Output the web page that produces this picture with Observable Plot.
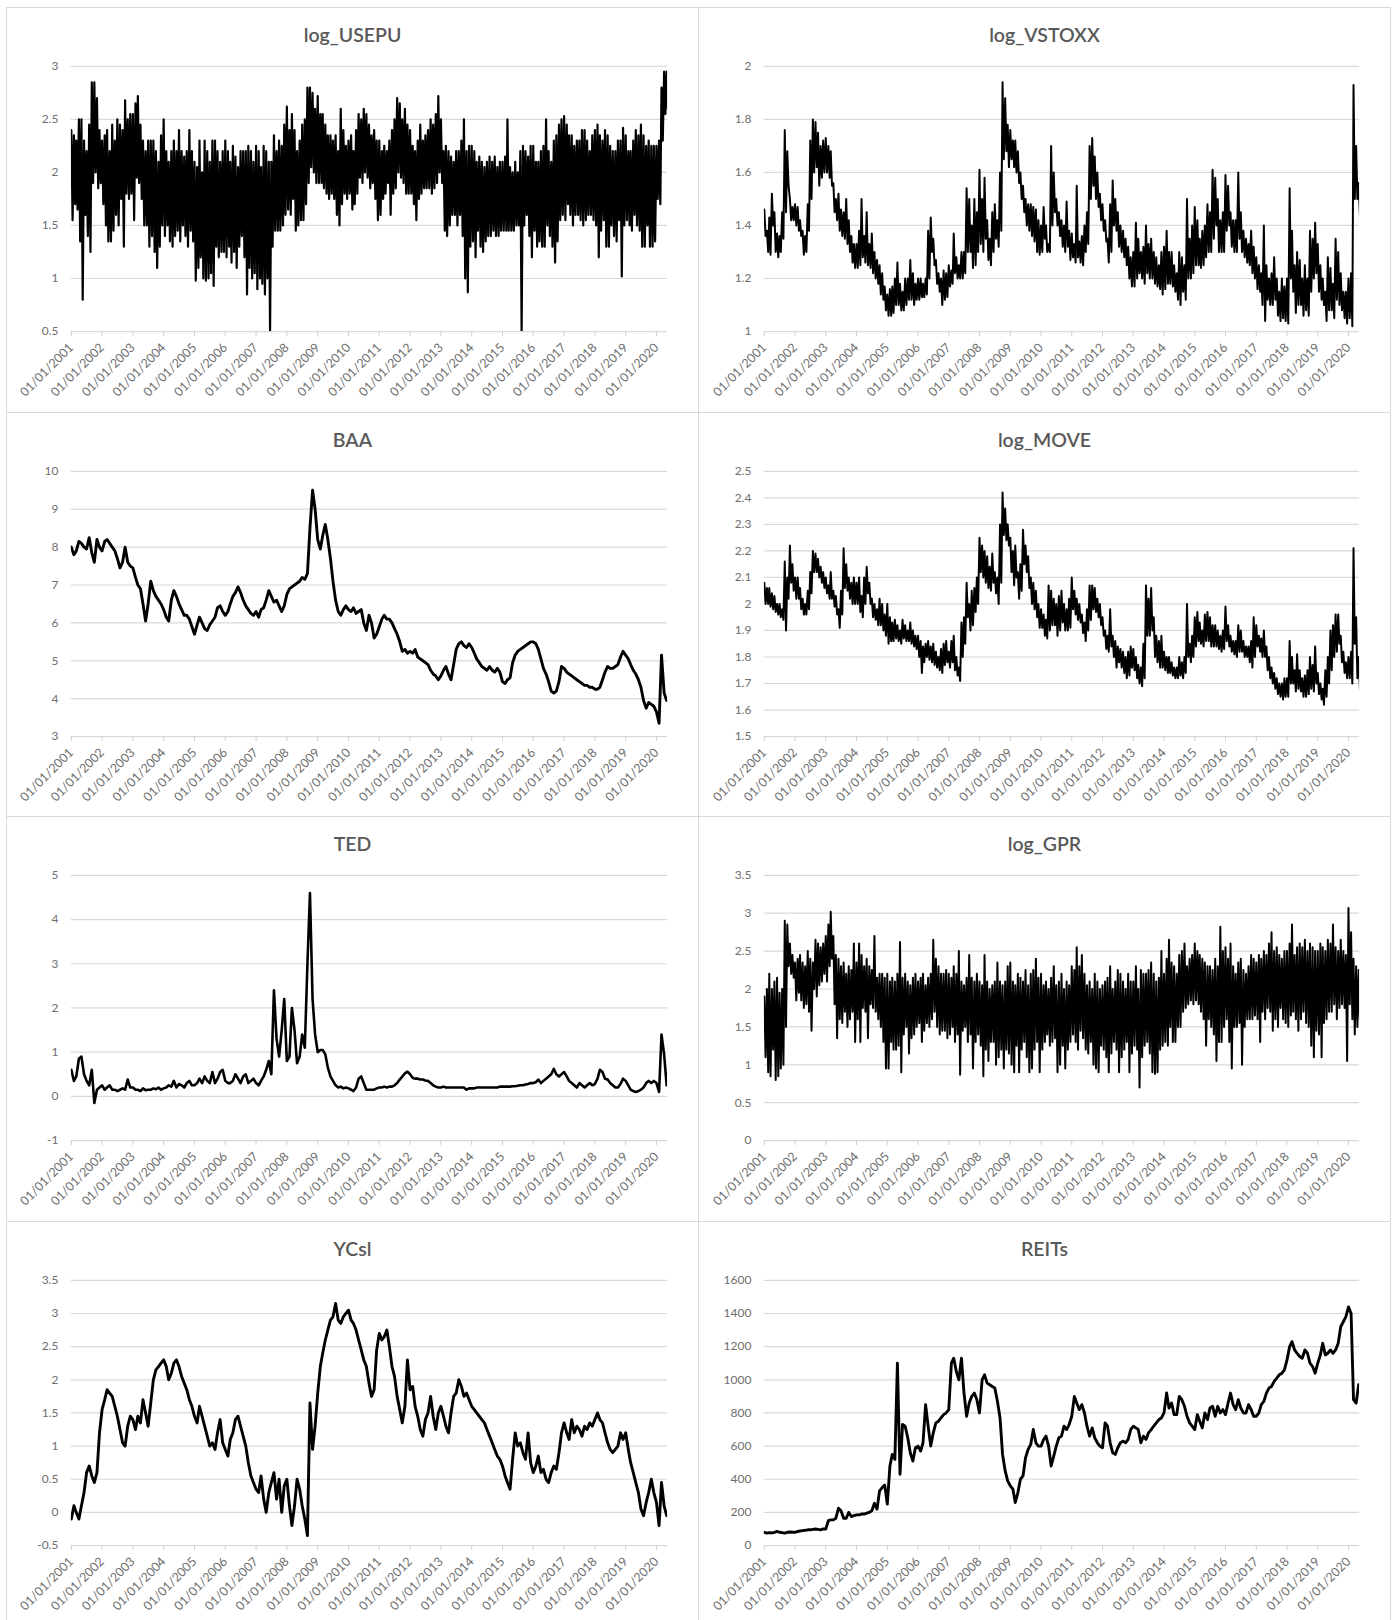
<!DOCTYPE html>
<html><head><meta charset="utf-8">
<script src="https://cdn.jsdelivr.net/npm/d3@7"></script>
<script src="https://cdn.jsdelivr.net/npm/@observablehq/plot@0.6"></script>
<style>
body{margin:0;background:#fff;width:1397px;height:1620px;position:relative;overflow:hidden;font-family:Lato,"Open Sans",sans-serif}
.panel{position:absolute;box-sizing:border-box;border:1px solid #d9d9d9;background:#fff;overflow:hidden}
.title{position:absolute;left:0;right:0;top:14px;height:26px;line-height:26px;text-align:center;font-size:19.5px;font-weight:600;color:#595959;z-index:2}
.panel svg{position:absolute;left:-1px;top:-1px}
</style></head><body>
<script>
// ---------- tick labels ----------
const tickYears = [2001,2002,2003,2004,2005,2006,2007,2008,2009,2010,2011,2012,2013,2014,2015,2016,2017,2018,2019,2020];
const usepuTicks = [0.5,1,1.5,2,2.5,3];
const vstoxxTicks = [1,1.2,1.4,1.6,1.8,2];
const baaTicks = [3,4,5,6,7,8,9,10];
const moveTicks = [1.5,1.6,1.7,1.8,1.9,2,2.1,2.2,2.3,2.4,2.5];
const tedTicks = [-1,0,1,2,3,4,5];
const gprTicks = [0,0.5,1,1.5,2,2.5,3,3.5];
const ycslTicks = [-0.5,0,0.5,1,1.5,2,2.5,3,3.5];
const reitsTicks = [0,200,400,600,800,1000,1200,1400,1600];

// ---------- series values (monthly, Jan 2001 - May 2020) ----------
const usepuHi = [
2.4,2.35,2.3,2.5,2.5,2.3,2.2,2.45,2.85,2.85,2.7,2.4,
2.3,2.35,2.4,2.2,2.45,2.3,2.5,2.45,2.4,2.68,2.5,2.55,
2.55,2.65,2.72,2.45,2.3,2.2,2.3,2.3,2.3,2.2,2.1,2.35,
2.5,2.2,2.1,2.2,2.3,2.2,2.4,2.2,2.15,2.2,2.4,2.2,
2.1,2.05,2.3,2.0,2.3,2.2,2.1,2.3,2.3,2.2,2.1,2.2,
2.3,2.2,2.1,2.25,2.15,2.05,2.2,2.2,2.2,2.25,2.2,2.1,
2.25,2.2,2.05,2.25,2.2,2.1,2.1,2.35,2.2,2.3,2.25,2.45,
2.62,2.4,2.55,2.4,2.2,2.3,2.45,2.5,2.8,2.8,2.75,2.6,
2.72,2.55,2.55,2.45,2.35,2.35,2.3,2.35,2.2,2.6,2.4,2.25,
2.3,2.35,2.2,2.4,2.55,2.5,2.6,2.55,2.45,2.35,2.4,2.3,
2.3,2.2,2.25,2.2,2.3,2.4,2.5,2.7,2.65,2.5,2.6,2.45,
2.4,2.25,2.2,2.3,2.45,2.3,2.35,2.4,2.5,2.45,2.55,2.72,
2.5,2.2,2.25,2.2,2.15,2.1,2.2,2.2,2.3,2.5,2.2,2.25,
2.25,2.2,2.1,2.15,2.1,2.05,2.1,2.15,2.1,2.15,2.05,2.1,
2.1,2.15,2.5,2.05,2.0,2.1,2.0,2.2,2.25,2.2,2.15,2.25,
2.25,2.1,2.1,2.2,2.25,2.5,2.2,2.1,2.3,2.35,2.45,2.5,
2.53,2.45,2.35,2.35,2.25,2.3,2.3,2.4,2.4,2.3,2.2,2.35,
2.4,2.45,2.35,2.3,2.4,2.35,2.25,2.2,2.2,2.3,2.3,2.42,
2.35,2.2,2.2,2.3,2.4,2.35,2.45,2.35,2.25,2.3,2.25,2.25,
2.25,2.3,2.8,2.95,2.95];
const usepuLo = [
1.55,1.7,1.65,1.35,0.8,1.6,1.4,1.25,1.9,2.0,1.85,1.9,
1.7,1.5,1.35,1.35,1.45,1.6,1.5,1.75,1.3,1.8,1.75,1.8,
1.55,1.95,1.9,1.75,1.5,1.5,1.3,1.4,1.25,1.1,1.3,1.5,
1.4,1.5,1.35,1.3,1.4,1.45,1.35,1.5,1.4,1.3,1.45,1.35,
0.98,1.1,1.2,1.0,0.98,1.0,1.05,0.93,1.3,1.2,1.25,1.25,
1.2,1.3,1.15,1.25,1.1,1.3,1.4,1.2,0.85,1.1,1.0,1.05,
0.9,1.0,0.95,0.85,1.0,0.5,1.3,1.45,1.45,1.45,1.5,1.6,
1.65,1.6,1.75,1.45,1.5,1.55,1.55,1.7,1.9,2.05,2.0,1.9,
1.9,1.9,1.85,1.8,1.75,1.8,1.75,1.6,1.5,1.7,1.8,1.75,
1.8,1.65,1.7,1.8,1.95,1.9,2.0,1.95,1.85,1.9,1.75,1.55,
1.6,1.75,1.8,1.9,1.6,1.8,1.85,2.0,1.95,1.9,1.8,1.8,
1.8,1.7,1.55,1.75,1.8,1.85,1.85,1.85,1.8,1.85,1.9,2.0,
1.9,1.45,1.4,1.5,1.6,1.6,1.5,1.6,1.4,1.0,0.87,1.3,
1.35,1.2,1.45,1.3,1.25,1.35,1.4,1.4,1.45,1.4,1.4,1.45,
1.45,1.45,1.45,1.45,1.45,1.5,1.5,0.5,1.5,1.6,1.4,1.2,
1.45,1.3,1.35,1.3,1.3,1.5,1.4,1.3,1.15,1.35,1.55,1.6,
1.55,1.7,1.6,1.5,1.6,1.6,1.55,1.5,1.55,1.6,1.6,1.55,
1.5,1.2,1.45,1.55,1.3,1.3,1.5,1.4,1.35,1.55,1.02,1.5,
1.55,1.5,1.45,1.6,1.5,1.45,1.3,1.3,1.5,1.3,1.3,1.35,
1.75,1.7,2.3,2.55,2.6];

const vstoxxHi = [
1.46,1.38,1.43,1.52,1.45,1.37,1.36,1.45,1.76,1.68,1.5,1.47,
1.48,1.47,1.42,1.38,1.36,1.48,1.72,1.8,1.79,1.75,1.7,1.72,
1.73,1.7,1.68,1.56,1.5,1.52,1.46,1.45,1.5,1.42,1.36,1.33,
1.33,1.38,1.5,1.36,1.45,1.33,1.37,1.3,1.27,1.25,1.22,1.17,
1.14,1.16,1.17,1.2,1.26,1.18,1.15,1.2,1.2,1.27,1.22,1.18,
1.2,1.2,1.18,1.2,1.38,1.43,1.35,1.27,1.22,1.2,1.23,1.22,
1.25,1.23,1.37,1.28,1.25,1.3,1.3,1.54,1.5,1.4,1.5,1.45,
1.61,1.5,1.58,1.42,1.35,1.45,1.48,1.42,1.6,1.94,1.88,1.78,
1.76,1.72,1.72,1.68,1.6,1.55,1.5,1.48,1.48,1.47,1.46,1.42,
1.4,1.47,1.4,1.33,1.7,1.6,1.5,1.45,1.42,1.4,1.49,1.38,
1.37,1.33,1.55,1.34,1.36,1.4,1.45,1.7,1.73,1.66,1.6,1.52,
1.48,1.42,1.35,1.48,1.57,1.5,1.45,1.4,1.38,1.35,1.32,1.28,
1.3,1.41,1.35,1.3,1.32,1.4,1.33,1.35,1.3,1.28,1.25,1.3,
1.32,1.38,1.3,1.3,1.25,1.22,1.3,1.28,1.25,1.5,1.35,1.4,
1.47,1.42,1.35,1.38,1.4,1.48,1.45,1.61,1.58,1.5,1.42,1.45,
1.59,1.55,1.45,1.42,1.42,1.6,1.45,1.38,1.35,1.33,1.38,1.32,
1.28,1.25,1.22,1.4,1.25,1.2,1.22,1.28,1.2,1.15,1.2,1.17,
1.2,1.54,1.38,1.25,1.3,1.27,1.2,1.25,1.2,1.38,1.35,1.41,
1.33,1.25,1.2,1.15,1.28,1.24,1.18,1.35,1.3,1.22,1.15,1.15,
1.2,1.22,1.93,1.7,1.56];
const vstoxxLo = [
1.36,1.3,1.29,1.4,1.3,1.28,1.3,1.35,1.45,1.55,1.42,1.42,
1.4,1.38,1.36,1.29,1.3,1.38,1.5,1.6,1.62,1.55,1.58,1.6,
1.6,1.58,1.55,1.45,1.42,1.38,1.36,1.35,1.33,1.3,1.26,1.24,
1.24,1.25,1.28,1.26,1.25,1.24,1.22,1.2,1.18,1.14,1.12,1.08,
1.06,1.06,1.07,1.1,1.1,1.08,1.08,1.1,1.12,1.12,1.1,1.12,
1.12,1.13,1.13,1.14,1.2,1.3,1.25,1.18,1.15,1.1,1.12,1.13,
1.17,1.18,1.22,1.2,1.2,1.2,1.22,1.3,1.3,1.24,1.25,1.3,
1.33,1.3,1.35,1.27,1.25,1.3,1.35,1.32,1.38,1.65,1.68,1.62,
1.65,1.62,1.6,1.56,1.5,1.45,1.4,1.38,1.36,1.34,1.3,1.29,
1.3,1.35,1.3,1.3,1.4,1.45,1.4,1.36,1.32,1.3,1.32,1.27,
1.28,1.26,1.28,1.26,1.25,1.3,1.33,1.5,1.55,1.5,1.47,1.42,
1.38,1.34,1.26,1.3,1.4,1.38,1.32,1.3,1.28,1.25,1.2,1.17,
1.17,1.2,1.22,1.2,1.18,1.22,1.2,1.2,1.18,1.17,1.16,1.14,
1.16,1.18,1.18,1.17,1.15,1.12,1.1,1.15,1.12,1.2,1.2,1.22,
1.25,1.25,1.24,1.25,1.28,1.3,1.3,1.35,1.4,1.3,1.3,1.3,
1.38,1.4,1.32,1.3,1.3,1.35,1.3,1.28,1.26,1.25,1.22,1.2,
1.16,1.15,1.1,1.04,1.12,1.1,1.1,1.12,1.06,1.04,1.05,1.04,
1.03,1.2,1.15,1.07,1.1,1.1,1.06,1.08,1.06,1.15,1.2,1.22,
1.15,1.12,1.1,1.04,1.08,1.08,1.05,1.12,1.1,1.08,1.05,1.03,
1.05,1.02,1.5,1.5,1.44];

const baa = [
8.0,7.8,7.9,8.15,8.1,8.0,7.95,8.25,7.85,7.6,8.2,8.0,
7.9,8.15,8.2,8.1,8.0,7.9,7.7,7.45,7.6,8.0,7.6,7.5,
7.45,7.2,7.0,6.9,6.5,6.05,6.5,7.1,6.85,6.7,6.6,6.5,
6.35,6.15,6.05,6.6,6.85,6.7,6.5,6.35,6.2,6.2,6.1,5.9,
5.7,5.95,6.15,6.0,5.85,5.8,5.95,6.05,6.15,6.4,6.45,6.3,
6.2,6.3,6.5,6.7,6.8,6.95,6.8,6.6,6.45,6.35,6.25,6.2,
6.3,6.15,6.35,6.4,6.6,6.85,6.7,6.55,6.6,6.45,6.3,6.45,
6.75,6.9,6.95,7.0,7.05,7.1,7.2,7.15,7.3,8.5,9.5,9.0,
8.2,7.95,8.3,8.6,8.2,7.7,7.1,6.6,6.3,6.2,6.35,6.45,
6.35,6.3,6.4,6.25,6.3,6.35,6.0,5.8,6.2,6.0,5.6,5.7,
5.9,6.1,6.2,6.1,6.1,6.0,5.85,5.7,5.5,5.25,5.3,5.2,
5.25,5.2,5.3,5.1,5.05,5.0,4.95,4.9,4.75,4.65,4.6,4.5,
4.6,4.75,4.85,4.65,4.5,4.9,5.3,5.45,5.5,5.4,5.35,5.45,
5.35,5.2,5.05,4.95,4.85,4.8,4.75,4.85,4.75,4.7,4.8,4.7,
4.45,4.4,4.5,4.55,4.95,5.15,5.25,5.3,5.35,5.4,5.45,5.5,
5.5,5.45,5.3,5.05,4.8,4.65,4.45,4.2,4.15,4.2,4.45,4.85,
4.8,4.7,4.65,4.6,4.55,4.5,4.45,4.4,4.35,4.35,4.3,4.3,
4.25,4.25,4.3,4.5,4.7,4.85,4.8,4.8,4.85,4.9,5.1,5.25,
5.15,5.05,4.9,4.75,4.65,4.5,4.3,3.95,3.75,3.9,3.85,3.8,
3.65,3.35,5.15,4.15,3.95];

const moveHi = [
2.08,2.06,2.06,2.04,2.03,2.0,2.0,1.98,2.16,2.1,2.22,2.15,
2.1,2.1,2.06,2.02,2.0,2.05,2.12,2.2,2.19,2.17,2.14,2.12,
2.1,2.07,2.12,2.05,2.03,1.98,2.05,2.21,2.15,2.1,2.08,2.1,
2.08,2.1,2.03,2.1,2.14,2.08,2.02,2.0,1.98,2.02,2.0,1.96,
2.0,1.95,1.93,1.94,1.92,1.9,1.94,1.92,1.9,1.93,1.9,1.88,
1.88,1.86,1.84,1.85,1.86,1.84,1.85,1.82,1.8,1.83,1.85,1.86,
1.82,1.86,1.88,1.8,1.76,1.93,1.95,2.08,2.0,2.05,2.06,2.1,
2.25,2.22,2.2,2.18,2.14,2.19,2.12,2.1,2.3,2.42,2.36,2.3,
2.25,2.2,2.22,2.12,2.15,2.28,2.22,2.18,2.1,2.08,2.05,2.0,
1.98,1.96,1.94,2.07,2.05,2.02,2.0,2.03,2.05,2.0,1.98,2.02,
2.1,2.05,2.02,2.0,1.96,1.93,1.98,2.07,2.07,2.06,2.02,2.0,
1.95,1.9,1.88,1.98,1.88,1.86,1.84,1.83,1.82,1.8,1.82,1.84,
1.83,1.8,1.77,1.76,1.85,2.07,2.02,2.06,1.95,1.88,1.86,1.88,
1.82,1.8,1.8,1.78,1.76,1.76,1.8,1.78,1.8,2.0,1.85,1.88,
1.95,1.97,1.93,1.9,1.96,1.97,1.95,1.92,1.92,1.9,1.88,1.9,
1.99,1.92,1.88,1.86,1.86,1.92,1.9,1.86,1.84,1.84,1.86,1.95,
1.92,1.88,1.87,1.9,1.84,1.8,1.76,1.74,1.72,1.7,1.7,1.72,
1.72,1.86,1.8,1.75,1.81,1.75,1.72,1.73,1.75,1.8,1.77,1.84,
1.74,1.7,1.68,1.75,1.8,1.9,1.92,1.96,1.96,1.88,1.82,1.78,
1.8,1.82,2.21,1.95,1.8];
const moveLo = [
2.0,2.0,1.99,1.98,1.97,1.96,1.95,1.94,1.9,2.02,2.08,2.05,
2.02,2.02,1.98,1.96,1.96,1.98,2.04,2.12,2.12,2.1,2.08,2.06,
2.04,2.02,2.02,1.99,1.96,1.91,1.96,2.06,2.05,2.02,2.0,2.0,
2.0,1.97,1.95,2.0,2.04,2.0,1.95,1.94,1.92,1.92,1.9,1.88,
1.85,1.86,1.86,1.87,1.86,1.85,1.87,1.86,1.86,1.85,1.84,1.83,
1.8,1.74,1.78,1.8,1.79,1.78,1.77,1.76,1.75,1.74,1.77,1.78,
1.76,1.78,1.75,1.73,1.71,1.8,1.85,1.95,1.9,1.92,1.97,2.0,
2.12,2.1,2.08,2.06,2.05,2.08,2.04,2.0,2.08,2.26,2.24,2.22,
2.12,2.07,2.1,2.02,2.05,2.15,2.12,2.06,2.0,1.98,1.95,1.91,
1.91,1.88,1.87,1.9,1.92,1.92,1.88,1.9,1.93,1.9,1.9,1.91,
1.98,1.96,1.94,1.93,1.89,1.86,1.9,1.94,1.98,1.97,1.95,1.92,
1.88,1.83,1.82,1.84,1.8,1.76,1.78,1.76,1.74,1.72,1.73,1.76,
1.75,1.72,1.7,1.69,1.72,1.88,1.88,1.9,1.8,1.78,1.76,1.76,
1.75,1.74,1.74,1.73,1.72,1.72,1.73,1.72,1.74,1.8,1.78,1.8,
1.84,1.86,1.85,1.84,1.86,1.86,1.84,1.84,1.84,1.83,1.82,1.83,
1.86,1.84,1.82,1.81,1.8,1.82,1.82,1.8,1.8,1.78,1.76,1.8,
1.84,1.82,1.8,1.8,1.75,1.72,1.7,1.68,1.66,1.65,1.64,1.65,
1.65,1.7,1.7,1.67,1.68,1.67,1.65,1.65,1.66,1.68,1.67,1.7,
1.66,1.64,1.62,1.65,1.7,1.75,1.8,1.82,1.85,1.78,1.74,1.72,
1.72,1.7,1.85,1.72,1.68];

const ted = [
0.6,0.35,0.45,0.85,0.9,0.5,0.35,0.25,0.6,-0.15,0.15,0.2,
0.25,0.15,0.2,0.25,0.15,0.15,0.12,0.15,0.18,0.15,0.38,0.2,
0.2,0.15,0.15,0.12,0.18,0.14,0.15,0.15,0.18,0.16,0.2,0.15,
0.18,0.2,0.25,0.22,0.35,0.2,0.28,0.25,0.2,0.3,0.35,0.25,
0.25,0.3,0.4,0.3,0.45,0.35,0.3,0.55,0.3,0.4,0.55,0.6,
0.35,0.3,0.3,0.35,0.5,0.4,0.3,0.45,0.5,0.3,0.35,0.4,
0.3,0.25,0.35,0.45,0.6,0.8,0.5,2.4,1.3,0.9,1.5,2.2,
0.8,0.9,2.0,1.5,0.75,0.9,1.4,1.1,3.0,4.6,2.2,1.4,
1.0,1.05,1.05,0.95,0.65,0.45,0.35,0.25,0.2,0.22,0.18,0.2,
0.18,0.15,0.12,0.2,0.4,0.45,0.3,0.15,0.15,0.15,0.15,0.18,
0.2,0.2,0.22,0.2,0.22,0.22,0.25,0.3,0.38,0.45,0.52,0.56,
0.5,0.42,0.4,0.4,0.38,0.38,0.36,0.35,0.3,0.25,0.22,0.2,
0.2,0.22,0.2,0.2,0.2,0.2,0.2,0.2,0.2,0.2,0.15,0.18,
0.18,0.18,0.2,0.2,0.2,0.2,0.2,0.2,0.2,0.2,0.2,0.22,
0.22,0.22,0.22,0.22,0.23,0.23,0.24,0.25,0.25,0.27,0.28,0.3,
0.3,0.32,0.38,0.3,0.35,0.4,0.45,0.5,0.62,0.5,0.45,0.5,
0.55,0.45,0.35,0.3,0.25,0.2,0.3,0.25,0.2,0.25,0.3,0.25,
0.28,0.4,0.6,0.55,0.4,0.38,0.3,0.25,0.2,0.2,0.28,0.4,
0.35,0.25,0.15,0.12,0.1,0.12,0.15,0.2,0.3,0.35,0.3,0.35,
0.3,0.1,1.4,0.95,0.25];

const gprHi = [
1.9,2.0,2.2,2.0,2.1,2.15,1.95,2.0,2.9,2.85,2.6,2.45,
2.35,2.4,2.45,2.35,2.3,2.5,2.4,2.35,2.65,2.6,2.55,2.6,
2.7,2.85,3.02,2.7,2.45,2.4,2.3,2.35,2.2,2.3,2.25,2.6,
2.35,2.6,2.45,2.3,2.4,2.3,2.25,2.7,2.15,2.2,2.2,2.15,
2.2,2.1,2.15,2.1,2.2,2.62,2.15,2.2,2.1,2.05,2.15,2.2,
2.1,2.15,2.2,2.05,2.15,2.2,2.65,2.4,2.3,2.2,2.2,2.25,
2.2,2.15,2.3,2.2,2.5,2.1,2.05,2.15,2.45,2.15,2.1,2.2,
2.1,2.05,2.45,2.1,2.0,2.05,2.1,2.35,2.1,2.05,2.1,2.3,
2.35,2.1,2.05,2.2,2.15,2.1,2.25,2.05,2.2,2.25,2.4,2.15,
2.2,2.05,2.1,2.0,2.15,2.3,2.05,2.1,2.2,2.0,2.1,2.05,
2.3,2.25,2.55,2.3,2.45,2.2,2.05,2.1,2.0,2.2,2.1,2.0,
2.05,2.1,2.15,2.3,2.0,2.1,2.25,2.2,2.1,2.0,2.2,2.1,
2.1,2.3,2.0,2.25,2.2,2.2,2.25,2.35,2.2,2.1,2.15,2.5,
2.2,2.4,2.65,2.35,2.3,2.2,2.45,2.5,2.6,2.3,2.4,2.45,
2.6,2.5,2.45,2.4,2.35,2.3,2.3,2.25,2.4,2.3,2.82,2.5,
2.55,2.4,2.6,2.3,2.2,2.35,2.4,2.25,2.2,2.3,2.45,2.4,
2.35,2.45,2.4,2.5,2.45,2.6,2.75,2.5,2.55,2.45,2.4,2.5,
2.5,2.6,2.85,2.45,2.55,2.6,2.55,2.65,2.5,2.6,2.55,2.5,
2.5,2.6,2.55,2.5,2.65,2.6,2.85,2.55,2.5,2.65,2.5,2.45,
3.07,2.75,2.4,2.3,2.25];
const gprLo = [
1.1,0.9,0.85,1.2,0.8,0.85,0.95,1.0,1.5,2.3,2.2,2.15,
1.85,1.95,1.85,1.75,1.8,1.7,1.45,2.0,1.9,2.05,2.1,2.2,
2.1,2.3,2.4,1.8,1.35,1.6,1.55,1.7,1.5,1.6,1.7,1.3,
1.6,1.3,1.75,1.7,1.35,1.8,1.75,1.7,1.6,1.5,1.3,0.95,
0.95,1.3,1.2,1.2,1.25,0.9,1.4,1.5,1.15,1.35,1.4,1.5,
1.55,1.3,1.45,1.55,1.5,1.6,1.7,1.5,1.4,1.45,1.45,1.35,
1.4,1.5,1.3,1.4,0.87,1.45,1.5,1.3,1.4,0.95,1.3,1.4,
1.25,0.85,1.2,1.05,1.3,1.3,1.0,1.1,1.2,0.95,1.2,1.15,
1.0,0.9,1.25,0.9,1.2,1.3,1.1,0.9,0.95,1.2,1.3,0.9,
1.2,1.3,1.4,1.25,1.3,1.35,0.9,1.0,1.25,0.95,1.2,1.3,
1.4,1.3,1.2,1.45,1.35,1.2,1.15,1.3,1.0,0.95,0.9,1.25,
1.2,1.1,0.9,1.15,1.3,1.2,0.9,1.1,1.2,1.3,0.9,1.15,
1.25,1.2,0.7,1.1,1.25,1.3,1.15,0.9,0.88,0.9,1.2,1.25,
1.3,1.25,1.5,1.3,1.3,1.5,1.5,1.7,1.75,1.8,1.85,1.8,
1.85,1.8,1.7,1.6,1.25,1.6,1.5,1.4,1.05,1.3,1.3,1.5,
1.6,1.3,0.95,1.5,1.5,1.55,1.0,1.5,1.6,1.6,1.6,1.65,
1.6,1.3,1.7,1.6,1.75,1.7,1.45,1.6,1.5,1.75,1.6,1.55,
1.5,1.65,1.7,1.6,1.45,1.6,1.7,1.55,1.5,1.25,1.1,1.45,
1.4,1.1,1.55,1.6,1.7,1.7,1.8,1.6,1.75,1.8,1.75,1.05,
1.8,1.6,1.4,1.5,1.6];

const ycsl = [
-0.1,0.1,0.0,-0.1,0.1,0.3,0.6,0.7,0.55,0.45,0.6,1.2,
1.55,1.7,1.85,1.8,1.75,1.6,1.45,1.25,1.05,1.0,1.3,1.45,
1.4,1.25,1.45,1.35,1.7,1.5,1.3,1.65,2.0,2.15,2.2,2.25,
2.3,2.2,2.0,2.1,2.25,2.3,2.2,2.05,1.95,1.85,1.7,1.6,
1.45,1.35,1.6,1.45,1.3,1.15,1.0,1.05,0.95,1.2,1.4,1.05,
0.95,0.85,1.1,1.2,1.4,1.45,1.3,1.15,1.0,0.75,0.55,0.45,
0.35,0.3,0.55,0.2,0.0,0.3,0.45,0.6,0.2,0.5,0.0,0.4,
0.5,0.1,-0.2,0.1,0.5,0.35,0.1,-0.1,-0.35,1.65,0.95,1.3,
1.8,2.2,2.4,2.6,2.75,2.9,2.95,3.15,2.9,2.85,2.95,3.0,
3.05,2.9,2.85,2.75,2.6,2.45,2.3,2.2,1.95,1.75,1.85,2.45,
2.7,2.6,2.65,2.75,2.5,2.2,2.05,1.75,1.55,1.35,1.6,2.3,
1.85,1.9,1.6,1.45,1.25,1.15,1.4,1.5,1.75,1.45,1.25,1.5,
1.6,1.45,1.3,1.2,1.5,1.75,1.8,2.0,1.9,1.75,1.8,1.7,
1.6,1.55,1.5,1.45,1.4,1.35,1.25,1.15,1.05,0.95,0.85,0.8,
0.7,0.55,0.45,0.35,0.8,1.2,1.0,1.05,0.9,0.8,1.2,0.75,
0.6,0.7,0.85,0.6,0.65,0.5,0.45,0.6,0.7,0.65,0.9,1.2,
1.35,1.2,1.1,1.4,1.2,1.3,1.25,1.15,1.3,1.25,1.35,1.3,
1.4,1.5,1.4,1.35,1.2,1.05,0.95,0.9,0.95,1.0,1.2,1.1,
1.2,0.95,0.75,0.6,0.45,0.3,0.05,-0.05,0.15,0.3,0.5,0.3,
0.15,-0.2,0.45,0.1,-0.05];

const reits = [
80,75,78,76,80,85,80,78,75,80,82,80,
80,85,88,90,92,95,95,98,100,98,95,100,
100,150,155,155,165,225,210,165,165,200,175,180,
185,185,190,190,195,200,210,255,220,330,350,365,
250,480,550,520,1100,430,730,720,650,560,510,590,
600,570,620,850,720,600,680,740,750,770,790,800,
820,1100,1130,1050,1000,1130,920,780,860,900,920,880,
800,1000,1030,980,970,960,950,870,770,550,450,390,
360,340,260,320,400,420,530,580,610,700,620,600,
600,640,660,600,480,540,600,650,660,720,700,730,
780,900,860,820,850,800,720,660,710,650,620,600,
590,740,720,620,560,550,590,620,630,620,640,700,
720,710,700,620,660,640,680,700,720,740,760,770,
800,920,830,860,790,790,900,880,840,780,740,720,
700,790,750,710,800,760,830,840,780,840,800,820,
790,860,920,850,820,880,830,800,800,850,820,780,
780,800,850,870,920,950,960,990,1010,1030,1040,1060,
1120,1200,1230,1180,1160,1140,1130,1180,1160,1100,1080,1040,
1100,1150,1220,1150,1160,1180,1160,1180,1220,1320,1350,1380,
1440,1400,880,860,970];

// ---------- build ----------
const months = d3.utcMonth.range(new Date(Date.UTC(2001,0,1)), new Date(Date.UTC(2020,5,1)));
const yearTicks = tickYears.map(y => new Date(Date.UTC(y,0,1)));
const xDomain = [new Date(Date.UTC(2001,0,1)), new Date(Date.UTC(2020,4,12))];

function bandRows(hi, lo) {
  const out = [];
  months.forEach((m, i) => {
    if (hi[i] != null) out.push({date: m, v: hi[i]});
    if (lo[i] != null) out.push({date: d3.utcDay.offset(m, 15), v: lo[i]});
  });
  return out;
}
function lineRows(v) {
  return months.map((m, i) => ({date: m, v: v[i]})).filter(d => d.v != null);
}

const panels = [
  {title: "log_USEPU", rows: bandRows(usepuHi, usepuLo), domain: [0.5, 3], ticks: usepuTicks, sw: 2.2},
  {title: "log_VSTOXX", rows: bandRows(vstoxxHi, vstoxxLo), domain: [1, 2], ticks: vstoxxTicks, sw: 2.0},
  {title: "BAA", rows: lineRows(baa), domain: [3, 10], ticks: baaTicks, sw: 2.9},
  {title: "log_MOVE", rows: bandRows(moveHi, moveLo), domain: [1.5, 2.5], ticks: moveTicks, sw: 2.0},
  {title: "TED", rows: lineRows(ted), domain: [-1, 5], ticks: tedTicks, sw: 2.6},
  {title: "log_GPR", rows: bandRows(gprHi, gprLo), domain: [0, 3.5], ticks: gprTicks, sw: 2.0},
  {title: "YCsl", rows: lineRows(ycsl), domain: [-0.5, 3.5], ticks: ycslTicks, sw: 2.9},
  {title: "REITs", rows: lineRows(reits), domain: [0, 1600], ticks: reitsTicks, sw: 2.9}
];

const labelColor = "#6e6e6e";
panels.forEach((p, k) => {
  const col = k % 2, row = Math.floor(k / 2);
  const div = document.createElement("div");
  div.className = "panel";
  div.style.left = (6 + col * 692) + "px";
  div.style.top = Math.round(7 + row * 404.5) + "px";
  div.style.width = "693px";
  div.style.height = "406px";
  const t = document.createElement("div");
  t.className = "title";
  t.textContent = p.title;
  div.appendChild(t);
  const chart = Plot.plot({
    width: 693, height: 405,
    marginLeft: col ? 66 : 65, marginRight: 30, marginTop: 59, marginBottom: 80,
    style: {fontFamily: "Lato, 'Open Sans', sans-serif", fontSize: "12px", background: "transparent", overflow: "visible"},
    x: {type: "utc", domain: xDomain},
    y: {domain: p.domain},
    marks: [
      Plot.ruleY(p.ticks, {stroke: "#d9d9d9", strokeWidth: 1.2}),
      Plot.axisY(p.ticks, {tickSize: 0, tickPadding: 13, tickFormat: d => String(d), fill: labelColor, label: null}),
      Plot.axisX(yearTicks, {tickSize: 5, tickPadding: 9, tickRotate: -45, tickFormat: d => "01/01/" + d.getUTCFullYear(), stroke: "#d0d0d0", fill: labelColor, fontSize: 12.5, label: null}),
      Plot.lineY(p.rows, {x: "date", y: "v", stroke: "#000", strokeWidth: p.sw, strokeLinejoin: "round", clip: true})
    ]
  });
  div.appendChild(chart);
  document.body.appendChild(div);
});
</script>
</body></html>
